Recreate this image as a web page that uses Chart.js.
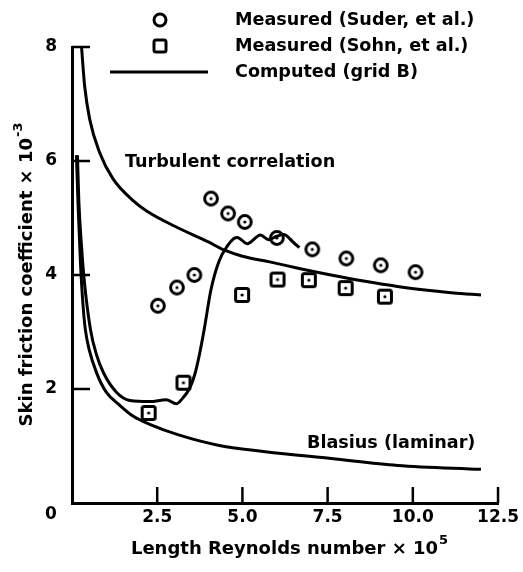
<!DOCTYPE html>
<html>
<head>
<meta charset="utf-8">
<script src="https://cdn.jsdelivr.net/npm/chart.js@4.4.1/dist/chart.umd.min.js"></script>
<style>
  html, body { margin: 0; padding: 0; background: #fff; }
  #wrap { width: 523px; height: 572px; }
</style>
</head>
<body>
<div id="wrap"><canvas id="cfChart" width="523" height="572"></canvas></div>
<script>
// Measured data (Re x 1e-5, Cf x 1e3)
const suderX = [2.52, 3.08, 3.59, 4.08, 4.58, 5.07, 6.01, 7.05, 8.05, 9.06, 10.08];
const suderY = [3.46, 3.78, 4.00, 5.34, 5.08, 4.93, 4.65, 4.45, 4.29, 4.17, 4.05];
const sohnX = [2.25, 3.27, 4.99, 6.03, 6.95, 8.03, 9.18];
const sohnY = [1.58, 2.11, 3.65, 3.92, 3.91, 3.77, 3.62];

// Curves
const turbX = [0.28, 0.37, 0.52, 0.81, 1.2, 1.8, 2.2, 3.0, 4.0, 4.46, 5.0, 5.8, 6.7, 7.6, 8.6, 9.55, 10.5, 11.5, 12.0];
const turbY = [8.0, 7.32, 6.73, 6.15, 5.69, 5.30, 5.12, 4.86, 4.58, 4.44, 4.33, 4.23, 4.11, 4.00, 3.89, 3.80, 3.73, 3.67, 3.65];
const lamX = [0.13, 0.18, 0.25, 0.32, 0.39, 0.5, 0.73, 1.0, 1.41, 1.8, 2.28, 3.15, 4.32, 5.67, 7.61, 9.55, 12.0];
const lamY = [6.1, 5.2, 4.2, 3.5, 3.05, 2.7, 2.27, 1.95, 1.71, 1.52, 1.38, 1.19, 1.01, 0.90, 0.78, 0.66, 0.59];
const compX = [0.16, 0.2, 0.28, 0.36, 0.54, 0.72, 0.92, 1.31, 1.7, 2.28, 2.77, 3.06, 3.25, 3.44, 3.6, 3.73, 3.88, 4.08, 4.32, 4.56, 4.75, 4.85, 5.14, 5.53, 5.77, 6.01, 6.21, 6.5, 6.67];
const compY = [6.1, 5.3, 4.5, 3.9, 3.05, 2.6, 2.29, 1.94, 1.80, 1.78, 1.81, 1.74, 1.84, 2.0, 2.25, 2.58, 3.05, 3.75, 4.25, 4.51, 4.64, 4.66, 4.55, 4.70, 4.62, 4.68, 4.71, 4.57, 4.48];

const xTicks = [2.5, 5.0, 7.5, 10.0, 12.5];
const yTicks = [2, 4, 6, 8];

const FONT = '"DejaVu Sans", sans-serif';

function pairs(xs, ys) {
  return xs.map((x, i) => ({ x: x, y: ys[i] }));
}

// marker images: ring / box with a dot in the middle
function makeMarker(kind) {
  const c = document.createElement('canvas');
  c.width = 18; c.height = 18;
  const g = c.getContext('2d');
  g.fillStyle = '#fff';
  g.strokeStyle = '#000';
  g.lineWidth = 3;
  g.beginPath();
  if (kind === 'circle') {
    g.arc(9, 9, 6.4, 0, Math.PI * 2);
  } else {
    g.roundRect(2.5, 2.5, 13, 13, 2);
  }
  g.fill();
  g.stroke();
  g.fillStyle = '#000';
  g.beginPath();
  g.arc(9, 9, 1.6, 0, Math.PI * 2);
  g.fill();
  return c;
}

const lineStyle = {
  showLine: true,
  borderColor: '#000',
  borderWidth: 3,
  pointRadius: 0,
  fill: false,
  cubicInterpolationMode: 'monotone'
};

const decorations = {
  id: 'decorations',
  afterDraw(chart) {
    const ctx = chart.ctx;
    const xs = chart.scales.x, ys = chart.scales.y;
    const area = chart.chartArea;
    ctx.save();
    ctx.strokeStyle = '#000';
    ctx.fillStyle = '#000';

    // inward ticks
    ctx.lineWidth = 2.5;
    yTicks.forEach(v => {
      const py = ys.getPixelForValue(v);
      ctx.beginPath();
      ctx.moveTo(area.left, py);
      ctx.lineTo(area.left + 18, py);
      ctx.stroke();
    });
    xTicks.forEach(v => {
      const px = xs.getPixelForValue(v);
      ctx.beginPath();
      ctx.moveTo(px, area.bottom);
      ctx.lineTo(px, area.bottom - 16);
      ctx.stroke();
    });

    // shared origin label
    ctx.font = 'bold 17px ' + FONT;
    ctx.textAlign = 'center';
    ctx.textBaseline = 'middle';
    ctx.fillText('0', 51, 515);

    // legend
    ctx.lineWidth = 3;
    ctx.beginPath();
    ctx.arc(160, 20, 6, 0, Math.PI * 2);
    ctx.stroke();
    ctx.beginPath();
    ctx.roundRect(154, 40, 12, 12, 2);
    ctx.stroke();
    ctx.beginPath();
    ctx.moveTo(110, 72);
    ctx.lineTo(208, 72);
    ctx.stroke();

    ctx.font = 'bold 17.6px ' + FONT;
    ctx.textAlign = 'left';
    ctx.fillText('Measured (Suder, et al.)', 235, 20);
    ctx.fillText('Measured (Sohn, et al.)', 235, 46);
    ctx.fillText('Computed (grid B)', 235, 72);

    // curve annotations
    ctx.fillText('Turbulent correlation', 125, 162);
    ctx.fillText('Blasius (laminar)', 307, 443);

    // axis titles with superscripts
    const drawTitle = (main, sup, cx, cy, rot) => {
      ctx.save();
      ctx.translate(cx, cy);
      ctx.rotate(rot);
      ctx.font = 'bold 18px ' + FONT;
      const w1 = ctx.measureText(main).width;
      ctx.font = 'bold 13px ' + FONT;
      const w2 = ctx.measureText(sup).width;
      const start = -(w1 + w2) / 2;
      ctx.textAlign = 'left';
      ctx.textBaseline = 'middle';
      ctx.font = 'bold 18px ' + FONT;
      ctx.fillText(main, start, 0);
      ctx.font = 'bold 13px ' + FONT;
      ctx.fillText(sup, start + w1 + 1, -8);
      ctx.restore();
    };
    drawTitle('Length Reynolds number \u00d7 10', '5', 289, 549, 0);
    drawTitle('Skin friction coefficient \u00d7 10', '-3', 27, 275, -Math.PI / 2);

    ctx.restore();
  }
};

new Chart(document.getElementById('cfChart').getContext('2d'), {
  type: 'scatter',
  data: {
    datasets: [
      Object.assign({ label: 'Turbulent correlation', data: pairs(turbX, turbY) }, lineStyle),
      Object.assign({ label: 'Blasius (laminar)', data: pairs(lamX, lamY) }, lineStyle),
      Object.assign({ label: 'Computed (grid B)', data: pairs(compX, compY) }, lineStyle),
      {
        label: 'Measured (Suder, et al.)',
        data: pairs(suderX, suderY),
        pointStyle: makeMarker('circle'),
        pointRadius: 9
      },
      {
        label: 'Measured (Sohn, et al.)',
        data: pairs(sohnX, sohnY),
        pointStyle: makeMarker('square'),
        pointRadius: 9
      }
    ]
  },
  options: {
    responsive: false,
    animation: false,
    layout: { padding: { left: 0, right: 21, top: 47, bottom: 0 } },
    plugins: {
      legend: { display: false },
      tooltip: { enabled: false }
    },
    scales: {
      x: {
        type: 'linear',
        min: 0,
        max: 12.5,
        afterFit: s => { s.height = 69; },
        afterBuildTicks: s => { s.ticks = xTicks.map(v => ({ value: v })); },
        grid: { display: false, drawTicks: false },
        border: { display: true, color: '#000', width: 3 },
        ticks: {
          color: '#000',
          padding: 4,
          maxRotation: 0,
          font: { family: FONT, size: 17, weight: 'bold' },
          callback: v => v.toFixed(1)
        }
      },
      y: {
        min: 0,
        max: 8,
        afterFit: s => { s.width = 72; },
        afterBuildTicks: s => { s.ticks = yTicks.map(v => ({ value: v })); },
        grid: { display: false, drawTicks: false },
        border: { display: true, color: '#000', width: 3 },
        ticks: {
          color: '#000',
          padding: 15,
          font: { family: FONT, size: 17, weight: 'bold' },
          callback: v => String(v)
        }
      }
    }
  },
  plugins: [decorations]
});
</script>
</body>
</html>
